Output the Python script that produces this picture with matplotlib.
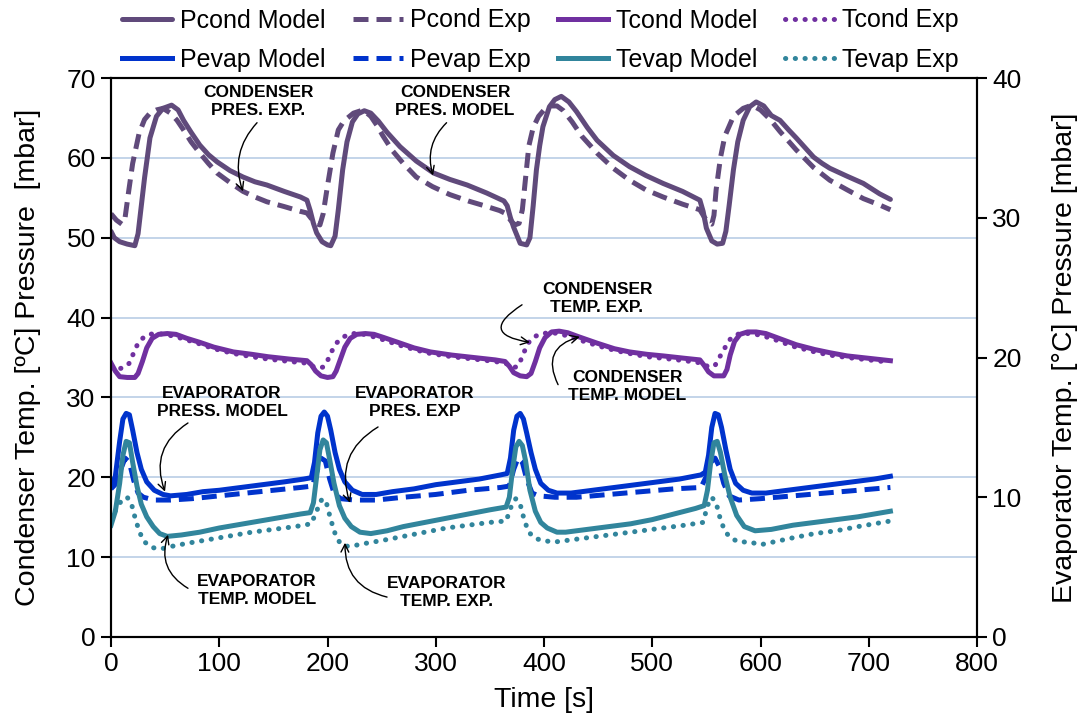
import matplotlib
matplotlib.use("Agg")
import matplotlib.pyplot as plt
from matplotlib import font_manager

# ---------------------------------------------------------------- data
# Condenser pressure, model [mbar]
pcond_model_t = [0, 3, 8, 15, 22, 25, 28, 31, 36, 42, 48, 56, 62, 67, 74, 82, 90, 98, 110, 122,
                 133, 144, 160, 175, 181, 184, 187, 190, 195, 200, 203, 207, 210, 214, 218, 223,
                 228, 234, 240, 247, 255, 267, 282, 298, 313, 329, 347, 363, 366, 369, 372, 378,
                 384, 387, 390, 393, 396, 399, 405, 410, 416, 423, 430, 440, 449, 464, 479, 494,
                 510, 528, 544, 547, 550, 555, 560, 565, 568, 571, 575, 579, 584, 590, 596, 603,
                 610, 618, 626, 633, 641, 649, 657, 664, 680, 695, 710, 720]
pcond_model_v = [50.8, 50.0, 49.5, 49.2, 49.0, 50.5, 54.0, 57.5, 62.5, 65.2, 66.2, 66.6, 66.0, 64.7,
                 63.2, 61.6, 60.4, 59.5, 58.4, 57.6, 57.0, 56.6, 55.8, 55.1, 54.7, 53.4, 51.8, 50.6,
                 49.5, 49.1, 49.0, 50.2, 53.5, 58.5, 62.0, 64.5, 65.5, 65.9, 65.6, 64.6, 63.2, 61.4,
                 59.6, 58.1, 57.3, 56.6, 55.6, 54.6, 54.0, 52.5, 51.3, 49.3, 49.1, 50.0, 54.0, 58.5,
                 61.5, 63.9, 66.4, 67.3, 67.7, 67.0, 65.8, 63.8, 62.2, 60.3, 58.9, 57.8, 56.8, 55.8,
                 54.7, 53.3, 51.2, 49.6, 49.2, 49.3, 50.8, 54.0, 58.5, 62.0, 64.7, 66.4, 67.0, 66.5,
                 65.3, 64.7, 63.5, 62.5, 61.3, 60.1, 59.3, 58.7, 57.7, 56.8, 55.5, 54.8]

# Condenser pressure, experiment [mbar]
pcond_exp_t = [0, 5, 10, 13, 16, 20, 26, 31, 36, 42, 48, 55, 61, 67, 74, 82, 90, 98, 110, 122,
               133, 144, 160, 175, 181, 185, 189, 193, 196, 200, 205, 210, 215, 224, 233, 240,
               246, 251, 260, 270, 282, 297, 313, 330, 345, 359, 365, 369, 373, 377, 380, 383,
               386, 390, 395, 400, 406, 412, 418, 426, 435, 449, 464, 479, 494, 510, 528, 544,
               548, 551, 555, 557, 559, 563, 567, 575, 584, 592, 600, 609, 618, 633, 649, 664,
               680, 695, 710, 720]
pcond_exp_v = [53.0, 52.2, 51.7, 52.5, 55.5, 59.3, 63.1, 64.8, 65.6, 66.0, 66.2, 65.6, 64.7, 63.5,
               62.0, 60.6, 59.3, 58.1, 56.9, 55.8, 55.1, 54.5, 53.9, 53.3, 53.1, 52.4, 51.8, 51.6,
               53.0, 56.5, 60.6, 63.5, 64.6, 65.6, 66.0, 65.2, 64.0, 62.8, 60.9, 59.3, 57.6, 56.4,
               55.4, 54.6, 54.0, 53.4, 53.0, 52.2, 51.6, 51.8, 53.5, 57.5, 61.5, 63.8, 65.2, 66.0,
               66.5, 66.5, 65.9, 64.5, 62.7, 60.6, 58.7, 57.2, 56.0, 55.1, 54.2, 53.5, 52.6, 52.0,
               51.7, 52.8, 56.0, 60.0, 62.7, 65.2, 66.2, 66.6, 66.0, 64.8, 63.3, 61.0, 58.8, 57.2,
               56.0, 54.9, 54.1, 53.5]

# Condenser temperature, model [deg C]
tcond_model_t = [0, 4, 8, 15, 22, 25, 29, 33, 38, 44, 52, 60, 70, 82, 95, 113, 130, 145, 165, 181,
                 185, 189, 194, 200, 205, 208, 212, 216, 221, 227, 235, 243, 252, 265, 280, 295,
                 315, 335, 355, 364, 368, 372, 378, 384, 388, 392, 396, 401, 407, 414, 422, 432,
                 449, 465, 479, 495, 510, 530, 544, 548, 552, 557, 566, 569, 572, 576, 581, 588,
                 596, 605, 615, 633, 650, 664, 680, 700, 720]
tcond_model_v = [34.3, 33.3, 32.6, 32.5, 32.5, 33.0, 34.5, 36.2, 37.4, 37.9, 38.0, 37.9, 37.4, 36.9,
                 36.3, 35.7, 35.4, 35.1, 34.8, 34.6, 34.1, 33.3, 32.7, 32.5, 32.6, 33.3, 34.8, 36.3,
                 37.4, 37.9, 38.0, 37.9, 37.5, 36.9, 36.2, 35.7, 35.3, 35.0, 34.7, 34.5, 33.9, 33.1,
                 32.7, 32.6, 33.0, 34.5, 36.2, 37.5, 38.2, 38.3, 38.1, 37.6, 36.8, 36.1, 35.7, 35.4,
                 35.2, 34.9, 34.7, 34.0, 33.2, 32.7, 32.7, 33.5, 35.3, 37.0, 37.9, 38.2, 38.2, 38.0,
                 37.5, 36.6, 36.0, 35.6, 35.2, 34.9, 34.6]

# Condenser temperature, experiment [deg C]
tcond_exp_t = [0, 8, 13, 17, 21, 25, 30, 35, 42, 50, 60, 70, 82, 95, 113, 130, 145, 165, 180, 186,
               192, 196, 200, 204, 209, 215, 222, 230, 240, 252, 265, 280, 295, 315, 335, 355,
               366, 371, 375, 378, 382, 386, 391, 398, 406, 414, 424, 435, 449, 465, 479, 495,
               510, 530, 546, 551, 555, 558, 562, 566, 570, 575, 581, 590, 600, 612, 630, 650,
               664, 680, 700, 720]
tcond_exp_v = [33.7, 33.6, 33.8, 34.3, 35.6, 36.8, 37.5, 37.9, 38.0, 37.9, 37.6, 37.2, 36.7, 36.1,
               35.5, 35.1, 34.8, 34.5, 34.3, 33.9, 33.7, 33.8, 34.6, 35.8, 36.9, 37.6, 38.0, 38.0,
               37.7, 37.2, 36.6, 36.0, 35.5, 35.1, 34.8, 34.5, 34.2, 33.8, 33.8, 34.5, 35.8, 36.9,
               37.6, 38.0, 38.1, 38.0, 37.6, 37.1, 36.5, 35.9, 35.5, 35.1, 34.9, 34.6, 34.3, 33.9,
               33.8, 34.0, 35.0, 35.9, 37.0, 37.7, 38.0, 38.0, 37.8, 37.3, 36.4, 35.7, 35.3, 35.0,
               34.7, 34.4]

# Evaporator pressure, model [mbar]
pevap_model_t = [0, 4, 8, 11, 14, 17, 20, 24, 28, 33, 40, 48, 55, 70, 85, 100, 120, 140, 160, 178,
                 185, 188, 191, 194, 197, 200, 203, 207, 211, 216, 223, 232, 245, 260, 280, 300,
                 320, 340, 360, 366, 369, 372, 375, 378, 381, 384, 388, 392, 397, 404, 412, 425,
                 445, 465, 485, 505, 525, 545, 549, 552, 555, 558, 561, 564, 568, 572, 577, 584,
                 592, 605, 625, 645, 665, 685, 705, 720]
pevap_model_v = [10.8, 11.5, 14.0, 15.6, 16.0, 15.9, 14.8, 13.2, 12.0, 11.1, 10.5, 10.2, 10.1, 10.2,
                 10.4, 10.5, 10.7, 10.9, 11.1, 11.3, 11.4, 12.5, 14.6, 15.8, 16.1, 15.8, 14.8, 13.2,
                 12.0, 11.1, 10.5, 10.2, 10.2, 10.4, 10.6, 10.9, 11.1, 11.3, 11.6, 11.7, 12.8, 14.8,
                 15.8, 16.0, 15.6, 14.6, 13.2, 12.0, 11.0, 10.5, 10.3, 10.3, 10.5, 10.7, 10.9, 11.1,
                 11.3, 11.6, 11.8, 13.0, 15.0, 16.0, 15.9, 15.0, 13.4, 12.0, 11.0, 10.5, 10.3, 10.3,
                 10.5, 10.7, 10.9, 11.1, 11.3, 11.5]

# Evaporator pressure, experiment [mbar]
pevap_exp_t = [0, 5, 9, 13, 17, 21, 25, 30, 40, 55, 75, 100, 125, 150, 175, 186, 190, 194, 198,
               202, 206, 212, 225, 245, 270, 300, 330, 360, 368, 372, 376, 380, 384, 389, 395,
               410, 430, 460, 490, 520, 545, 550, 554, 558, 562, 566, 571, 580, 600, 630, 660,
               690, 720]
pevap_exp_v = [10.6, 11.0, 12.0, 12.8, 12.5, 11.2, 10.3, 10.0, 9.8, 9.8, 9.9, 10.1, 10.3, 10.5,
               10.7, 10.8, 11.8, 12.8, 12.6, 11.3, 10.3, 9.9, 9.8, 9.8, 10.0, 10.2, 10.5, 10.7,
               10.8, 12.0, 12.8, 12.5, 11.3, 10.3, 10.1, 10.0, 10.0, 10.2, 10.4, 10.6, 10.7, 11.5,
               12.5, 12.8, 12.2, 11.0, 10.1, 9.8, 9.9, 10.1, 10.3, 10.5, 10.7]

# Evaporator temperature, model [deg C]
tevap_model_t = [0, 4, 8, 11, 14, 17, 20, 24, 28, 33, 39, 45, 52, 65, 82, 100, 115, 130, 145, 160,
                 175, 184, 187, 190, 193, 196, 199, 202, 206, 211, 216, 222, 230, 240, 255, 270,
                 290, 310, 330, 350, 365, 368, 371, 374, 377, 380, 383, 387, 392, 397, 403, 412,
                 420, 440, 460, 480, 500, 520, 540, 548, 551, 554, 557, 560, 563, 567, 572, 578,
                 585, 595, 610, 630, 650, 670, 690, 705, 720]
tevap_model_v = [8.0, 9.0, 11.0, 13.0, 14.0, 13.9, 12.5, 10.8, 9.5, 8.6, 7.9, 7.4, 7.2, 7.3, 7.5,
                 7.8, 8.0, 8.2, 8.4, 8.6, 8.8, 8.9, 9.6, 11.5, 13.4, 14.1, 13.9, 12.7, 11.0, 9.4,
                 8.5, 7.9, 7.5, 7.4, 7.6, 7.9, 8.2, 8.5, 8.8, 9.1, 9.3, 10.0, 12.0, 13.6, 14.0,
                 13.7, 12.6, 10.5, 9.0, 8.2, 7.8, 7.5, 7.5, 7.7, 7.9, 8.1, 8.4, 8.8, 9.2, 9.4, 10.5,
                 12.5, 13.9, 14.0, 13.2, 11.6, 10.0, 8.7, 7.9, 7.6, 7.7, 8.0, 8.2, 8.4, 8.6, 8.8,
                 9.0]

# Evaporator temperature, experiment [deg C]
tevap_exp_t = [0, 5, 10, 15, 19, 23, 27, 31, 38, 46, 57, 70, 85, 100, 115, 130, 150, 170, 185,
               191, 195, 199, 203, 207, 211, 216, 222, 235, 250, 270, 290, 310, 330, 350, 365,
               370, 374, 378, 382, 386, 391, 398, 410, 430, 450, 470, 490, 510, 530, 547, 551,
               555, 559, 563, 567, 572, 580, 590, 600, 612, 630, 650, 670, 690, 705, 720]
tevap_exp_v = [8.4, 9.2, 9.8, 10.0, 9.5, 8.3, 7.4, 6.8, 6.4, 6.3, 6.5, 6.7, 6.9, 7.1, 7.3, 7.5,
               7.7, 7.9, 8.1, 9.2, 9.9, 9.6, 8.4, 7.4, 6.8, 6.5, 6.5, 6.7, 6.9, 7.2, 7.5, 7.8,
               8.0, 8.2, 8.3, 9.4, 9.9, 9.5, 8.3, 7.5, 7.1, 6.9, 6.8, 7.0, 7.2, 7.4, 7.6, 7.8,
               8.0, 8.2, 9.4, 10.0, 9.6, 8.4, 7.6, 7.1, 6.8, 6.8, 6.6, 6.8, 7.1, 7.4, 7.6, 7.9,
               8.1, 8.3]

legend_labels = ["Pcond Model", "Pcond Exp", "Tcond Model", "Tcond Exp",
                 "Pevap Model", "Pevap Exp", "Tevap Model", "Tevap Exp"]

x_ticks = [0, 100, 200, 300, 400, 500, 600, 700, 800]
left_ticks = [0, 10, 20, 30, 40, 50, 60, 70]
right_ticks = [0, 10, 20, 30, 40]

# ---------------------------------------------------------------- style
names = {f.name for f in font_manager.fontManager.ttflist}
narrow = "Liberation Sans Narrow" if "Liberation Sans Narrow" in names else "Liberation Sans"
plt.rcParams["font.family"] = [narrow, "DejaVu Sans"]

C_PCOND = "#604a7b"
C_TCOND = "#7030a0"
C_PEVAP = "#0033cc"
C_TEVAP = "#31859c"
LW = 3.6
DASH = (0, (3.0, 1.6))
DOT = (0, (0.05, 1.9))

fig = plt.figure(figsize=(10.81, 7.26), dpi=100)
ax = fig.add_axes([111 / 1081, 1 - 637 / 726, 866 / 1081, 559 / 726])
ax2 = ax.twinx()

ax.set_xlim(0, 800)
ax.set_ylim(0, 70)
ax2.set_ylim(0, 40)

ax.set_yticks(left_ticks)
ax.set_xticks(x_ticks)
ax2.set_yticks(right_ticks)
for y in left_ticks[1:-1]:
    ax.axhline(y, color="#b9cde5", lw=1.2, zorder=0)

# condenser series on the left axis
h_pcm, = ax.plot(pcond_model_t, pcond_model_v, color=C_PCOND, lw=LW, solid_capstyle="round",
                 solid_joinstyle="round")
h_pce, = ax.plot(pcond_exp_t, pcond_exp_v, color=C_PCOND, lw=LW, ls=DASH, dash_capstyle="butt")
h_tcm, = ax.plot(tcond_model_t, tcond_model_v, color=C_TCOND, lw=LW, solid_joinstyle="round")
h_tce, = ax.plot(tcond_exp_t, tcond_exp_v, color=C_TCOND, lw=LW, ls=DOT, dash_capstyle="round")

# evaporator series on the right axis
h_pem, = ax2.plot(pevap_model_t, pevap_model_v, color=C_PEVAP, lw=LW, solid_joinstyle="round")
h_pee, = ax2.plot(pevap_exp_t, pevap_exp_v, color=C_PEVAP, lw=LW, ls=DASH, dash_capstyle="butt")
h_tem, = ax2.plot(tevap_model_t, tevap_model_v, color=C_TEVAP, lw=LW, solid_joinstyle="round")
h_tee, = ax2.plot(tevap_exp_t, tevap_exp_v, color=C_TEVAP, lw=LW, ls=DOT, dash_capstyle="round")

# axes decoration
TICK_FS = 19
LABEL_FS = 20.5
for a in (ax, ax2):
    for s in a.spines.values():
        s.set_linewidth(1.5)
        s.set_color("black")
    a.tick_params(direction="out", length=7, width=1.5, labelsize=TICK_FS, pad=4)

ax.set_xlabel("Time [s]", fontsize=LABEL_FS, labelpad=8)
ax.set_ylabel("Condenser Temp. [\u00baC] Pressure  [mbar]", fontsize=LABEL_FS, labelpad=18)
ax2.set_ylabel("Evaporator Temp. [\u00b0C] Pressure [mbar]", fontsize=LABEL_FS, labelpad=22)

# legend: two rows of four entries (column-major order for ncol=4)
handles = [h_pcm, h_pem, h_pce, h_pee, h_tcm, h_tem, h_tce, h_tee]
labels = [legend_labels[i] for i in (0, 4, 1, 5, 2, 6, 3, 7)]
fig.legend(handles, labels, ncol=4, loc="center", bbox_to_anchor=(0.5, 1 - 40 / 726),
           frameon=False, fontsize=18, handlelength=2.0, handletextpad=0.3,
           columnspacing=1.1, labelspacing=0.6)

# callouts
ANN_FS = 12.5
callouts = [
    ("CONDENSER\nPRES. EXP.", (135.8, 67.0), (134.9, 64.4), (121.9, 55.8), 0.3),
    ("CONDENSER\nPRES. MODEL", (317.8, 67.0), (310.0, 64.4), (297.5, 57.8), 0.3),
    ("CONDENSER\nTEMP. EXP.", (449.0, 42.4), (379.7, 41.6), (387.0, 36.9), 1.3),
    ("CONDENSER\nTEMP. MODEL", (476.7, 31.4), (413.0, 31.6), (433.0, 37.6), -0.6),
    ("EVAPORATOR\nPRESS. MODEL", (102.5, 29.4), (71.1, 26.8), (49.9, 18.2), 0.4),
    ("EVAPORATOR\nPRES. EXP", (280.8, 29.4), (246.7, 26.3), (220.8, 16.8), 0.4),
    ("EVAPORATOR\nTEMP. MODEL", (134.9, 5.8), (71.1, 6.1), (52.7, 12.8), -0.4),
    ("EVAPORATOR\nTEMP. EXP.", (310.4, 5.6), (255.0, 5.0), (216.2, 11.8), -0.4),
]
for text, pos, start, tip, rad in callouts:
    ax2.text(pos[0], pos[1], text, transform=ax.transData, ha="center", va="center",
             fontsize=ANN_FS, fontweight="bold", family=["Liberation Sans", "DejaVu Sans"],
             linespacing=1.25, zorder=6)
    ax2.annotate("", xy=tip, xycoords=ax.transData, xytext=start, textcoords=ax.transData,
                 arrowprops=dict(arrowstyle="->", color="black", lw=1.0,
                                 connectionstyle=f"arc3,rad={rad}", shrinkA=0, shrinkB=0,
                                 mutation_scale=14),
                 zorder=6)

fig.savefig("out.png", dpi=100)
